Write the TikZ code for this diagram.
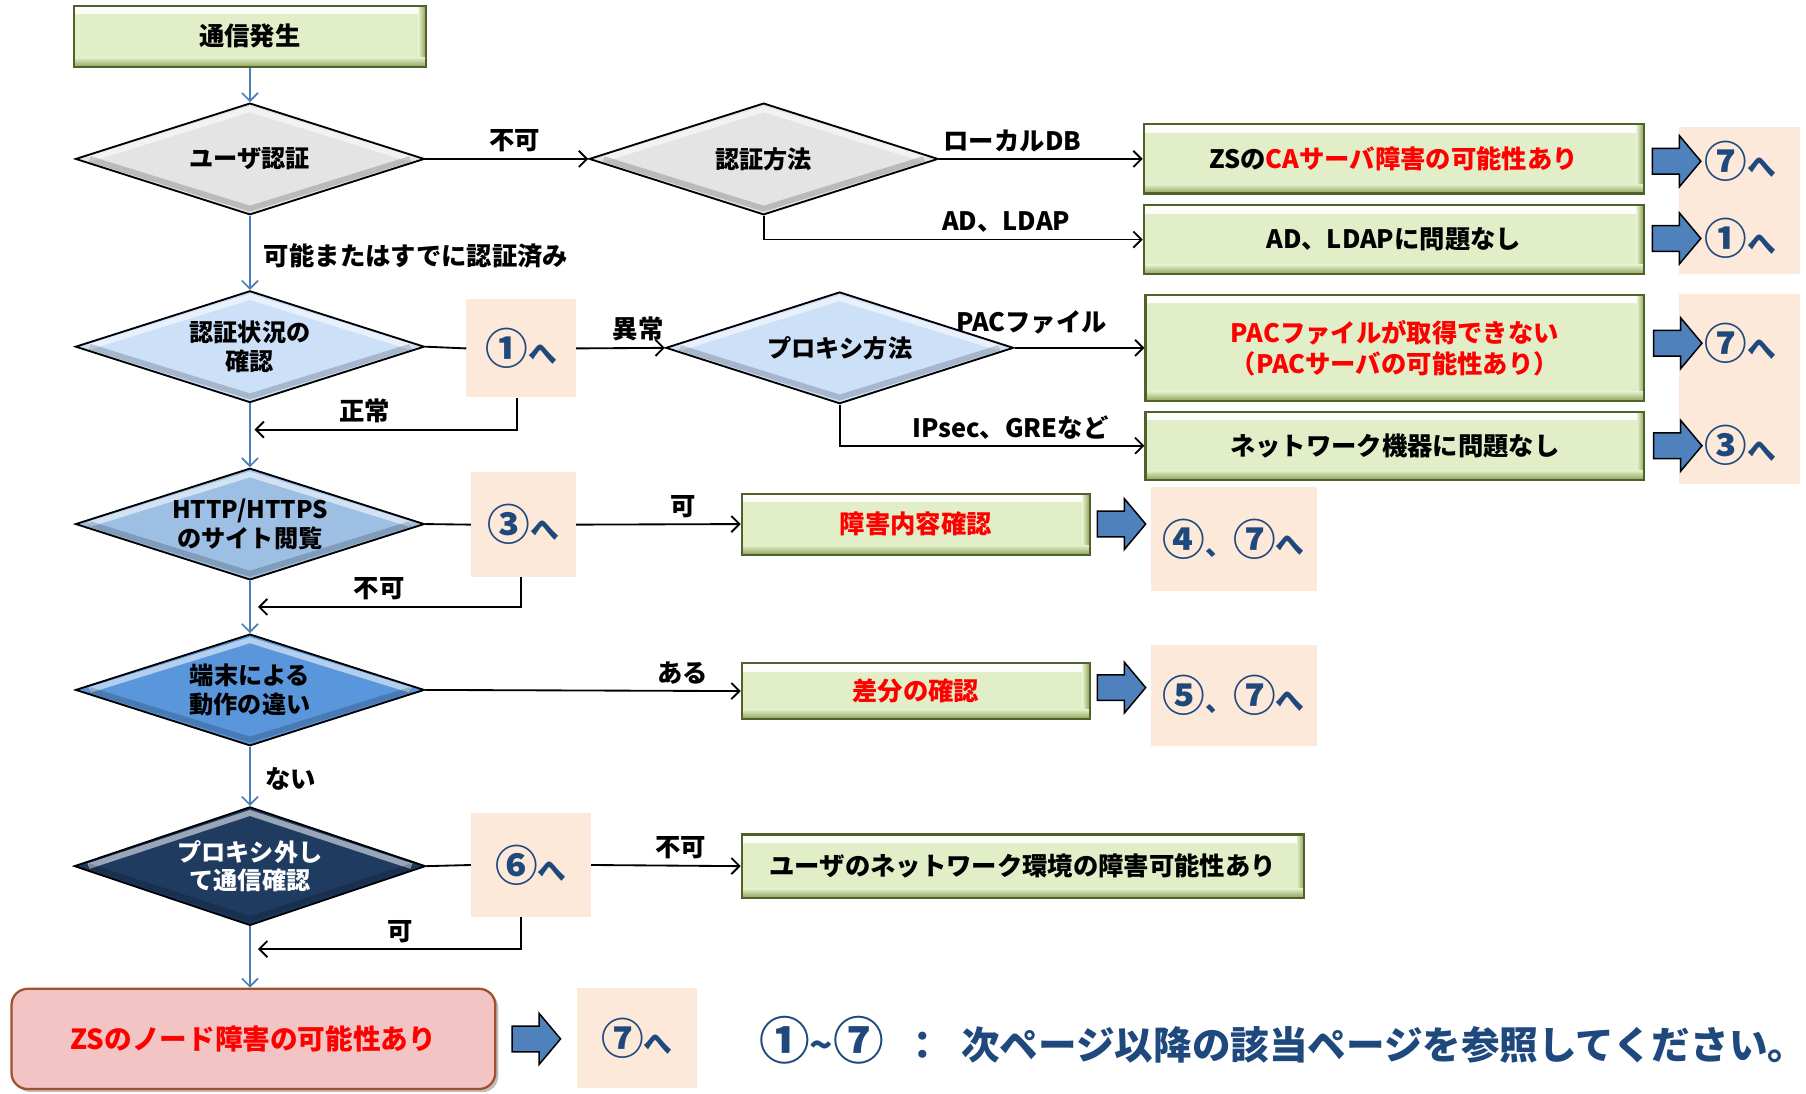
\documentclass[tikz,border=0pt]{standalone}
\usepackage{fontspec}
\setmainfont{Noto Sans CJK JP}
\usetikzlibrary{shapes.geometric,shapes.arrows,arrows.meta,calc,shadows}
\definecolor{boxfill}{HTML}{E1EEC8}
\definecolor{boxedge}{HTML}{4F6228}
\definecolor{boxdark}{HTML}{8FA35C}
\definecolor{peach}{HTML}{FDE9D9}
\definecolor{navy}{HTML}{1F497D}
\definecolor{flowblue}{HTML}{4A7EBB}
\definecolor{arrowblue}{HTML}{4F81BD}
\definecolor{dgray}{HTML}{E4E4E4}
\definecolor{dlight}{HTML}{CCE0F8}
\definecolor{dmid}{HTML}{9DBFE4}
\definecolor{dblue}{HTML}{5A96DB}
\definecolor{ddark}{HTML}{1F3B60}
\definecolor{zspink}{HTML}{F2C4C4}
\definecolor{zsedge}{HTML}{A0522D}
\definecolor{txtred}{HTML}{FF0000}
% circled number, enlarged
\newcommand{\cnum}[1]{{\fontsize{37}{40}\selectfont #1}}
\newcommand{\he}{{\fontsize{25}{30}\selectfont へ}}
\newcommand{\fcnum}[1]{{\fontsize{44}{46}\selectfont #1}}
\begin{document}
\begin{tikzpicture}[x=1pt,y=-1pt,
  greenbox/.style={draw=boxedge, line width=1.8pt, fill=boxfill, inner sep=0pt,
    align=center, font=\bfseries\fontsize{22}{27}\selectfont,
    path picture={
      \shade[top color=white, bottom color=boxfill]
        (path picture bounding box.north west) rectangle ([yshift=-7pt]path picture bounding box.north east);
      \shade[left color=boxfill, right color=boxdark]
        ([xshift=-6pt]path picture bounding box.north east) rectangle (path picture bounding box.south east);
      \shade[top color=boxfill, bottom color=boxdark]
        ([yshift=8pt]path picture bounding box.south west) rectangle (path picture bounding box.south east);
    }},
  dia/.style={diamond, draw=black, line width=1.6pt, inner sep=0pt, aspect=3.1,
    minimum width=303pt, minimum height=97pt, align=center,
    font=\bfseries\fontsize{21}{25}\selectfont,
    path picture={
      \draw[white, opacity=0.55, line width=5pt]
        ($(path picture bounding box.west)+(12pt,0)$) -- ($(path picture bounding box.north)+(0,-5pt)$)
        -- ($(path picture bounding box.east)+(-12pt,0)$);
      \draw[black, opacity=0.18, line width=5pt]
        ($(path picture bounding box.west)+(12pt,0)$) -- ($(path picture bounding box.south)+(0,5pt)$)
        -- ($(path picture bounding box.east)+(-12pt,0)$);
    }},
  peachbox/.style={fill=peach, inner sep=0pt},
  peachtxt/.style={text=navy, font=\bfseries\fontsize{29}{33}\selectfont, inner sep=0pt},
  blockarrow/.style={single arrow, draw=black, line width=1.3pt, fill=arrowblue,
    minimum height=42pt, single arrow head extend=11pt, single arrow tip angle=100,
    inner sep=0pt},
  blueline/.style={draw=flowblue, line width=1.5pt, -{Straight Barb[length=7pt,width=14pt]}},
  blk/.style={draw=black, line width=1.6pt},
  blkarrow/.style={blk, -{Straight Barb[length=7pt,width=14pt]}},
  lbl/.style={font=\bfseries\fontsize{22}{26}\selectfont, inner sep=2pt}
]
\useasboundingbox (0,0) rectangle (1568,949);

% main column
\node[greenbox, minimum width=305pt, minimum height=53pt] (start) at (217,31.5) {通信発生};
\node[dia, fill=dgray] (d1) at (217,138) {ユーザ認証};
\node[dia, fill=dgray] (d2) at (663,138) {認証方法};
\node[dia, fill=dlight] (d3) at (217,301) {認証状況の\\確認};
\node[dia, fill=dlight, minimum width=302pt] (d4) at (729,302) {プロキシ方法};
\node[dia, fill=dmid] (d5) at (217,455) {HTTP/HTTPS\\のサイト閲覧};
\node[dia, fill=dblue] (d6) at (217,599) {端末による\\動作の違い};
\node[dia, fill=ddark, text=white, minimum width=305pt, minimum height=103pt] (d7) at (217,752) {プロキシ外し\\て通信確認};
\node[draw=zsedge, line width=2pt, fill=zspink, rounded corners=14pt, drop shadow,
  minimum width=420pt, minimum height=87pt, text=txtred,
  font=\bfseries\fontsize{24}{28}\selectfont] (zs) at (220,902) {ZSのノード障害の可能性あり};

% result boxes
\node[greenbox, minimum width=434pt, minimum height=60pt] (b1) at (1210,138) {ZSの\textcolor{txtred}{CAサーバ障害の可能性あり}};
\node[greenbox, minimum width=434pt, minimum height=60pt] (b2) at (1210,208) {AD、LDAPに問題なし};
\node[greenbox, minimum width=433pt, minimum height=92pt, text=txtred] (b3) at (1211,302) {PACファイルが取得できない\\（PACサーバの可能性あり）};
\node[greenbox, minimum width=433pt, minimum height=59pt] (b4) at (1211,387) {ネットワーク機器に問題なし};
\node[greenbox, minimum width=302pt, minimum height=53pt, text=txtred] (b5) at (795,455) {障害内容確認};
\node[greenbox, minimum width=302pt, minimum height=48pt, text=txtred] (b6) at (795,600) {差分の確認};
\node[greenbox, minimum width=488pt, minimum height=55pt] (b7) at (888,752) {ユーザのネットワーク環境の障害可能性あり};

% peach reference boxes
\node[peachbox, minimum width=95pt, minimum height=85pt] (p1) at (452.5,302.5) {};
\node[peachtxt] at (p1) {\cnum{①}\he};
\node[peachbox, minimum width=91pt, minimum height=91pt] (p2) at (454.5,455.5) {};
\node[peachtxt] at (p2) {\cnum{③}\he};
\node[peachbox, minimum width=104pt, minimum height=90pt] (p3) at (461,751) {};
\node[peachtxt] at (p3) {\cnum{⑥}\he};
\node[peachbox, minimum width=104pt, minimum height=87pt] (p4) at (553,901.5) {};
\node[peachtxt] at (p4) {\cnum{⑦}\he};
\node[peachbox, minimum width=144pt, minimum height=90pt] (p5) at (1071,468) {};
\node[peachtxt] at (p5) {\cnum{④}{\fontsize{24}{28}\selectfont 、}\cnum{⑦}\he};
\node[peachbox, minimum width=144pt, minimum height=88pt] (p6) at (1071,604) {};
\node[peachtxt] at (p6) {\cnum{⑤}{\fontsize{24}{28}\selectfont 、}\cnum{⑦}\he};
\node[peachbox, minimum width=105pt, minimum height=128pt] (pr1) at (1510.5,174) {};
\node[peachbox, minimum width=105pt, minimum height=165pt] (pr2) at (1510.5,337.5) {};
\node[peachtxt] (t1) at (1511,140) {\cnum{⑦}\he};
\node[peachtxt] (t2) at (1511,207) {\cnum{①}\he};
\node[peachtxt] (t3) at (1511,298) {\cnum{⑦}\he};
\node[peachtxt] (t4) at (1511,387) {\cnum{③}\he};

% block arrows
\node[blockarrow] (a1) at (1451,140) {\rule{0pt}{21pt}};
\node[blockarrow] (a2) at (1451,207) {\rule{0pt}{21pt}};
\node[blockarrow] (a3) at (1452,298) {\rule{0pt}{21pt}};
\node[blockarrow] (a4) at (1452,387) {\rule{0pt}{21pt}};
\node[blockarrow] (a5) at (969,455) {\rule{0pt}{21pt}};
\node[blockarrow] (a6) at (969,597) {\rule{0pt}{21pt}};
\node[blockarrow] (a7) at (461,902) {\rule{0pt}{21pt}};

% main vertical flow
\draw[blueline] (start.south) -- (d1.north);
\draw[blueline] (d1.south) -- (d3.north);
\node[lbl, anchor=west] (lok) at (227,222) {可能またはすでに認証済み};
\draw[blueline] (d3.south) -- (d5.north);
\draw[blueline] (d5.south) -- (d6.north);
\draw[blueline] (d6.south) -- (d7.north);
\node[lbl, anchor=west] (lno) at (228,676) {ない};
\draw[blueline] (d7.south) -- (d7.south |- zs.north);

% return points on the main line
\coordinate (r1) at (221,373);
\coordinate (r2) at (224,527);
\coordinate (r3) at (224,824);

% branches
\begin{scope}[every node/.style={lbl, above, yshift=3pt}]
\draw[blkarrow] (d1.east) -- node[pos=0.55] {不可} (d2.west);
\draw[blkarrow] (d2.east) -- node[pos=0.36] {ローカルDB} (b1.west);
\draw[blkarrow] (d2.south) |- node[pos=0.82] {AD、LDAP} (b2.west);

\draw[blk] (d3.east) -- (p1.west);
\draw[blkarrow] (p1.east) -- node[pos=0.7] {異常} (d4.west);
\draw[blkarrow] ([xshift=-4pt]p1.south) |- node[pos=0.79] {正常} (r1);
\draw[blkarrow] (d4.east) -- node[pos=0.13, yshift=6pt] {PACファイル} (b3.west);
\draw[blkarrow] (d4.south) |- node[pos=0.78] {IPsec、GREなど} (b4.west);

\draw[blk] (d5.east) -- (p2.west);
\draw[blkarrow] (p2.east) -- node[pos=0.65] {可} (b5.west);
\draw[blkarrow] ([xshift=-2pt]p2.south) |- node[pos=0.77] {不可} (r2);

\draw[blkarrow] (d6.east) -- node[pos=0.815] {ある} (b6.west);

\draw[blk] (d7.east) -- (p3.west);
\draw[blkarrow] (p3.east) -- node[pos=0.6] {不可} (b7.west);
\draw[blkarrow] ([xshift=-9pt]p3.south) |- node[pos=0.73] {可} (r3);
\end{scope}

% footer
\node[anchor=west, text=navy, font=\bfseries\fontsize{33.5}{40}\selectfont, inner sep=0pt] (foot) at (659,903) {\fcnum{①}\char"7E\fcnum{⑦}\enspace ：\enspace 次ページ以降の該当ページを参照してください。};
\end{tikzpicture}
\end{document}
